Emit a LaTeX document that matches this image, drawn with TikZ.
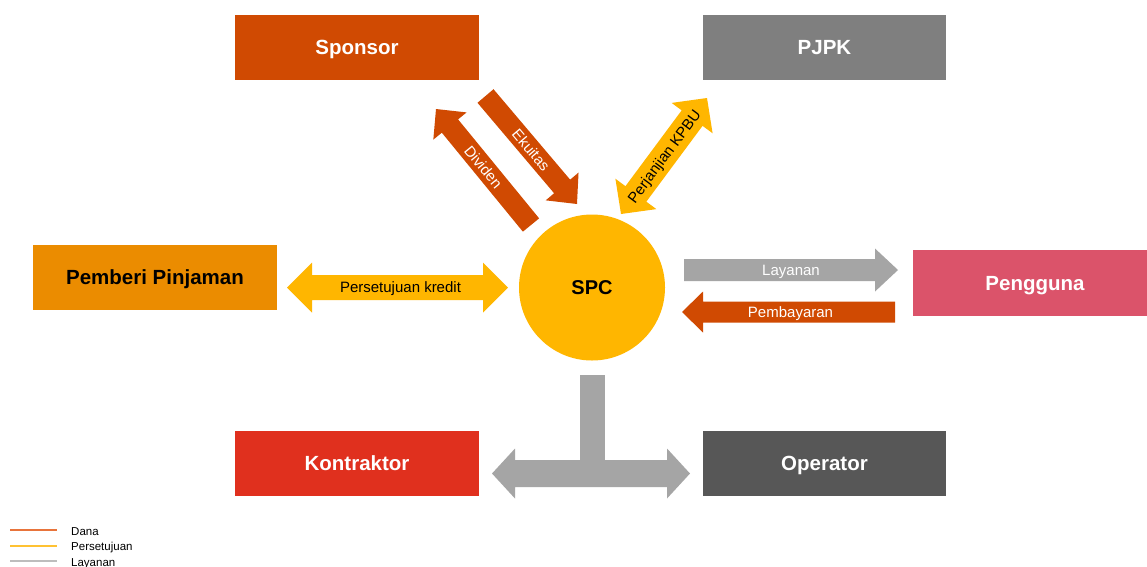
\documentclass[tikz,border=0pt]{standalone}
\usepackage{fontspec}
\setmainfont{Liberation Sans}
\definecolor{pwcorange}{HTML}{D04A02}
\definecolor{pwcgray}{HTML}{7F7F7F}
\definecolor{pwctangerine}{HTML}{EB8C00}
\definecolor{pwcrose}{HTML}{DB536A}
\definecolor{pwcred}{HTML}{E0301E}
\definecolor{pwcdark}{HTML}{575757}
\definecolor{pwcyellow}{HTML}{FFB600}
\definecolor{arrgray}{HTML}{A5A5A5}
\definecolor{legdana}{HTML}{E8743B}
\definecolor{legpers}{HTML}{FFC233}
\definecolor{leglay}{HTML}{BDBDBD}

% single block arrow: x1,y1 (tail) x2,y2 (tip), shaft w, head width, head length, fill
\newcommand{\sarrow}[8]{%
  \pgfmathsetmacro\aang{atan2(-((#4)-(#2)),(#3)-(#1))}%
  \pgfmathsetmacro\alen{veclen((#3)-(#1),(#4)-(#2))}%
  \pgfmathsetmacro\tang{\aang>90 ? \aang-180 : (\aang<-90 ? \aang+180 : \aang)}%
  \begin{scope}[shift={(#1,#2)},rotate=\aang]
    \fill[#8] (0,{-#5/2}) -- ({\alen-#7},{-#5/2}) -- ({\alen-#7},{-#6/2}) -- (\alen,0)
      -- ({\alen-#7},{#6/2}) -- ({\alen-#7},{#5/2}) -- (0,{#5/2}) -- cycle;
    \coordinate (arrowmid) at ({\alen/2},0);
  \end{scope}}
% double block arrow
\newcommand{\darrow}[8]{%
  \pgfmathsetmacro\aang{atan2(-((#4)-(#2)),(#3)-(#1))}%
  \pgfmathsetmacro\alen{veclen((#3)-(#1),(#4)-(#2))}%
  \pgfmathsetmacro\tang{\aang>90 ? \aang-180 : (\aang<-90 ? \aang+180 : \aang)}%
  \begin{scope}[shift={(#1,#2)},rotate=\aang]
    \fill[#8] (0,0) -- (#7,{-#6/2}) -- (#7,{-#5/2}) -- ({\alen-#7},{-#5/2}) -- ({\alen-#7},{-#6/2}) -- (\alen,0)
      -- ({\alen-#7},{#6/2}) -- ({\alen-#7},{#5/2}) -- (#7,{#5/2}) -- (#7,{#6/2}) -- cycle;
    \coordinate (arrowmid) at ({\alen/2},0);
  \end{scope}}

\tikzset{
  box/.style={rectangle, minimum width=244pt, minimum height=65pt, inner sep=0pt,
    text height=14.7pt, text depth=0pt,
    font=\bfseries\fontsize{20.5}{24}\selectfont},
  arrlbl/.style={inner sep=0pt, text height=10.8pt, text depth=0pt,
    font=\fontsize{15}{18}\selectfont},
  legline/.style={line width=2pt},
  legtxt/.style={anchor=base west, inner sep=0pt, font=\fontsize{11.5}{13}\selectfont},
}

\begin{document}
\begin{tikzpicture}[x=1pt,y=-1pt]
\useasboundingbox (0,0) rectangle (1147,566);
\fill[white] (0,0) rectangle (1147,566);
\clip (0,0) rectangle (1147,566);

% boxes
\node[box, fill=pwcorange, text=white] (sponsor) at (357,47.5) {Sponsor};
\node[box, fill=pwcgray, text=white, minimum width=243pt] (pjpk) at (824.5,47.5) {PJPK};
\node[box, fill=pwctangerine, text=black] (pemberi) at (155,277.5) {Pemberi Pinjaman};
\node[box, fill=pwcrose, text=white, minimum height=66pt] (pengguna) at (1035,283) {Pengguna};
\node[box, fill=pwcred, text=white] (kontraktor) at (357,463.5) {Kontraktor};
\node[box, fill=pwcdark, text=white, minimum width=243pt] (operator) at (824.5,463.5) {Operator};
\node[circle, fill=pwcyellow, minimum size=146pt, inner sep=0pt,
  text height=14.4pt, text depth=0pt,
  font=\bfseries\fontsize{20}{24}\selectfont] (spc) at (592,287.5) {SPC};

% Ekuitas
\sarrow{485.5}{96}{577}{204}{21}{43}{23}{pwcorange}
\node[arrlbl, text=white, rotate=\tang] (ekuitas) at (arrowmid) {Ekuitas};
% Dividen
\sarrow{531}{225}{436}{109}{21}{43}{22}{pwcorange}
\node[arrlbl, text=white, rotate=\tang] (dividen) at (arrowmid) {Dividen};
% Perjanjian KPBU
\darrow{621}{214}{707}{98}{26}{51}{25}{pwcyellow}
\node[arrlbl, text=black, rotate=\tang] (kpbu) at (arrowmid) {Perjanjian KPBU};
% Persetujuan kredit
\darrow{287}{287.5}{508}{287.5}{25}{50}{25}{pwcyellow}
\node[arrlbl, text=black] (kredit) at ([xshift=3pt]arrowmid) {Persetujuan kredit};
% Layanan
\sarrow{684}{270}{898}{270}{22}{43}{23}{arrgray}
\node[arrlbl, text=white] (layanan) at (arrowmid) {Layanan};
% Pembayaran
\sarrow{895}{312}{682}{312}{21}{41}{21}{pwcorange}
\node[arrlbl, text=white] (pembayaran) at ([xshift=2pt]arrowmid) {Pembayaran};
% T-shaped gray arrow
\fill[arrgray] (580,375) rectangle (605,465);
\darrow{492}{473.5}{690}{473.5}{27}{50}{23}{arrgray}

% legend
\coordinate (l1a) at (10,530); \coordinate (l1b) at (57,530);
\coordinate (l2a) at (10,545.5); \coordinate (l2b) at (57,545.5);
\coordinate (l3a) at (10,561); \coordinate (l3b) at (57,561);
\draw[legline, legdana] (l1a) -- (l1b);
\draw[legline, legpers] (l2a) -- (l2b);
\draw[legline, leglay] (l3a) -- (l3b);
\node[legtxt] (legdana) at (71,535) {Dana};
\node[legtxt] (legpers) at (71,550.5) {Persetujuan};
\node[legtxt] (leglay) at (71,566) {Layanan};
\end{tikzpicture}
\end{document}
